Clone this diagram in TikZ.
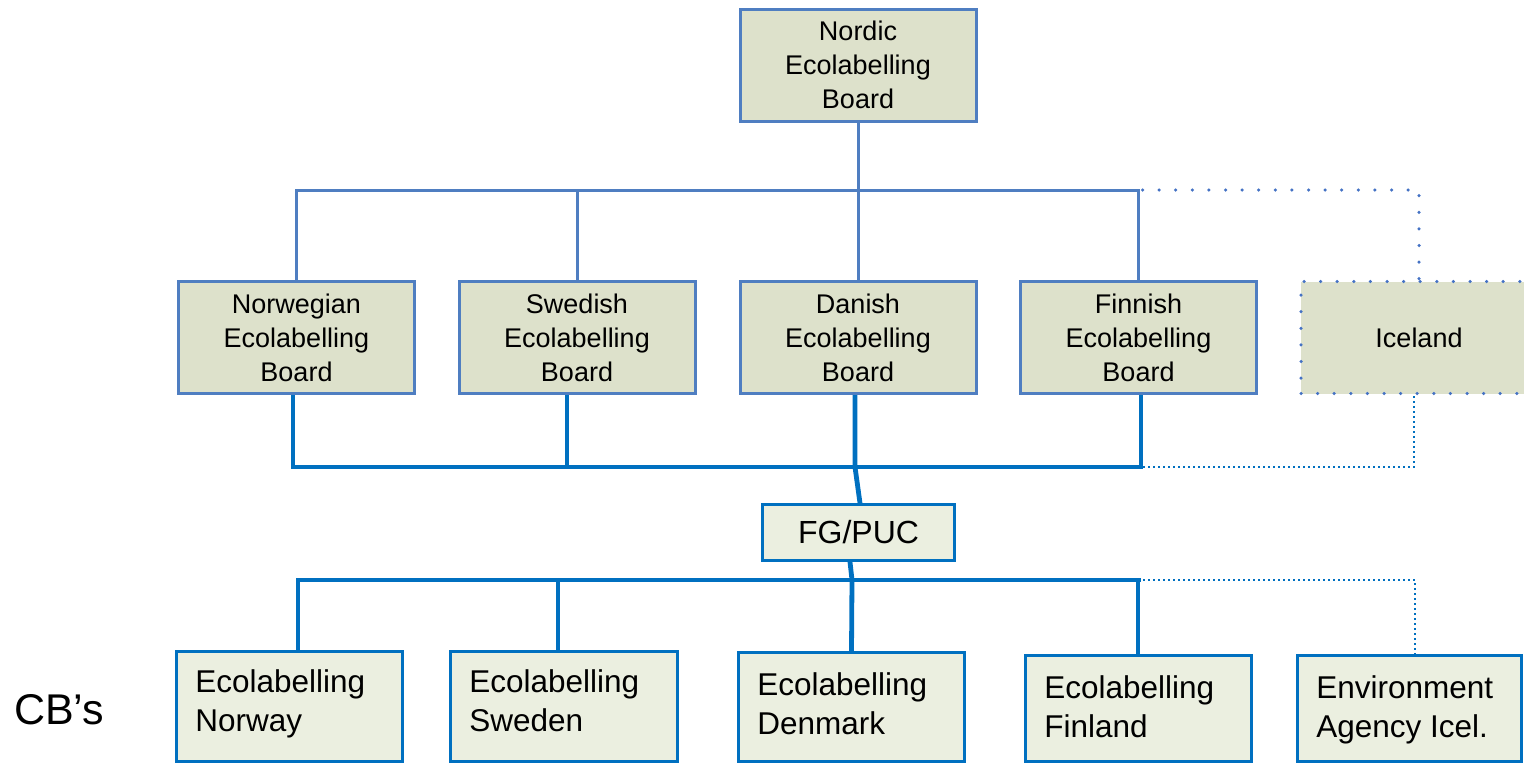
\documentclass[tikz,border=0pt]{standalone}
\usepackage{fontspec}
\setmainfont{Liberation Sans}
\definecolor{topblue}{HTML}{4F7EC1}
\definecolor{dotblue}{HTML}{4472C4}
\definecolor{botblue}{HTML}{0070C0}
\definecolor{topfill}{HTML}{DDE1CB}
\definecolor{botfill}{HTML}{EBEFE0}
\tikzset{
 topbox/.style={draw=topblue, line width=3pt, fill=topfill, minimum width=236pt, minimum height=112pt, align=center, inner sep=0pt, font=\fontsize{27pt}{34pt}\selectfont},
 icebox/.style={draw=dotblue, line width=3.5pt, line cap=round, dash pattern=on 0pt off 16.6pt, fill=topfill, minimum width=236pt, minimum height=112pt, inner sep=0pt, font=\fontsize{27pt}{34pt}\selectfont},
 botbox/.style={draw=botblue, line width=2.8pt, fill=botfill, inner sep=0pt},
 bottext/.style={anchor=north west, align=left, inner sep=0pt, font=\fontsize{31.5pt}{39pt}\selectfont},
 thinconn/.style={draw=topblue, line width=3pt},
 thickconn/.style={draw=botblue, line width=4.8pt},
 bigdots/.style={draw=dotblue, line width=3.5pt, line cap=round, dash pattern=on 0pt off 16.6pt},
 smalldots/.style={draw=botblue, line width=2.5pt, dash pattern=on 2pt off 3pt},
}
\begin{document}
\begin{tikzpicture}[x=1pt,y=-1pt]
\useasboundingbox (0,0) rectangle (1524,764);
% top level
\node[topbox] (nordic) at (858,65) {Nordic\\Ecolabelling\\Board};
% boards
\node[topbox] (norw) at (296.5,337.5) {Norwegian\\Ecolabelling\\Board};
\node[topbox] (swe) at (577,337.5) {Swedish\\Ecolabelling\\Board};
\node[topbox] (dan) at (858,337.5) {Danish\\Ecolabelling\\Board};
\node[topbox] (fin) at (1138.5,337.5) {Finnish\\Ecolabelling\\Board};
\node[icebox] (ice) at (1419,337.5) {Iceland};
% FG/PUC
\node[botbox, minimum width=192pt, minimum height=56pt, font=\fontsize{32pt}{38pt}\selectfont] (fg) at (858.5,532.5) {FG/PUC};
% CBs
\node[botbox, minimum width=226pt, minimum height=110pt] (bn) at (289.5,706.5) {};
\node[botbox, minimum width=227pt, minimum height=110pt] (bs) at (564,706.5) {};
\node[botbox, minimum width=226pt, minimum height=109pt] (bd) at (851.5,707) {};
\node[botbox, minimum width=226pt, minimum height=106pt] (bf) at (1138.5,708.5) {};
\node[botbox, minimum width=224pt, minimum height=106pt] (be) at (1409.5,708.5) {};
\node[bottext] (bnt) at ([xshift=20pt,yshift=-19pt]bn.north west) {Ecolabelling\\Norway};
\node[bottext] (bst) at ([xshift=20pt,yshift=-19pt]bs.north west) {Ecolabelling\\Sweden};
\node[bottext] (bdt) at ([xshift=20pt,yshift=-21pt]bd.north west) {Ecolabelling\\Denmark};
\node[bottext] (bft) at ([xshift=20pt,yshift=-21pt]bf.north west) {Ecolabelling\\Finland};
\node[bottext] (bet) at ([xshift=20pt,yshift=-21pt]be.north west) {Environment\\Agency Icel.};
\node[anchor=west, inner sep=0pt, font=\fontsize{43pt}{50pt}\selectfont] (cbs) at (14,710) {CB’s};
% top connectors
\coordinate (tb) at (858,190);
\draw[thinconn] (nordic.south) -- (tb);
\draw[thinconn] (norw.north) |- (tb) -| (fin.north);
\draw[thinconn] (swe.north) -- (swe.north |- tb);
\draw[thinconn] (dan.north) -- (tb);
\draw[bigdots] ([xshift=4pt]fin.north |- tb) -| (ice.north);
% middle connectors
\coordinate (mb) at (855,467);
\draw[thickconn] ([xshift=-3.5pt]norw.south) |- ([xshift=2.5pt]fin.south |- mb) -- ([xshift=2.5pt]fin.south);
\draw[thickconn] ([xshift=-10pt]swe.south) -- ([xshift=-10pt]swe.south |- mb);
\draw[thickconn] ([xshift=-3pt]dan.south) -- (mb) -- ([xshift=1.5pt]fg.north);
\draw[smalldots] ([xshift=4.5pt]fin.south |- mb) -| ([xshift=-5pt]ice.south);
% lower connectors
\coordinate (lb) at (852,580);
\draw[thickconn] ([xshift=-8.5pt]fg.south) -- (lb) -- (bd.north);
\draw[thickconn] ([xshift=8.5pt]bn.north) |- ([xshift=2.5pt]bf.north |- lb);
\draw[thickconn] ([xshift=-0.5pt]bf.north) -- ([xshift=-0.5pt]bf.north |- lb);
\draw[thickconn] ([xshift=-6pt]bs.north) -- ([xshift=-6pt]bs.north |- lb);
\draw[smalldots] ([xshift=4.5pt]bf.north |- lb) -| ([xshift=5.5pt]be.north);
\end{tikzpicture}
\end{document}
